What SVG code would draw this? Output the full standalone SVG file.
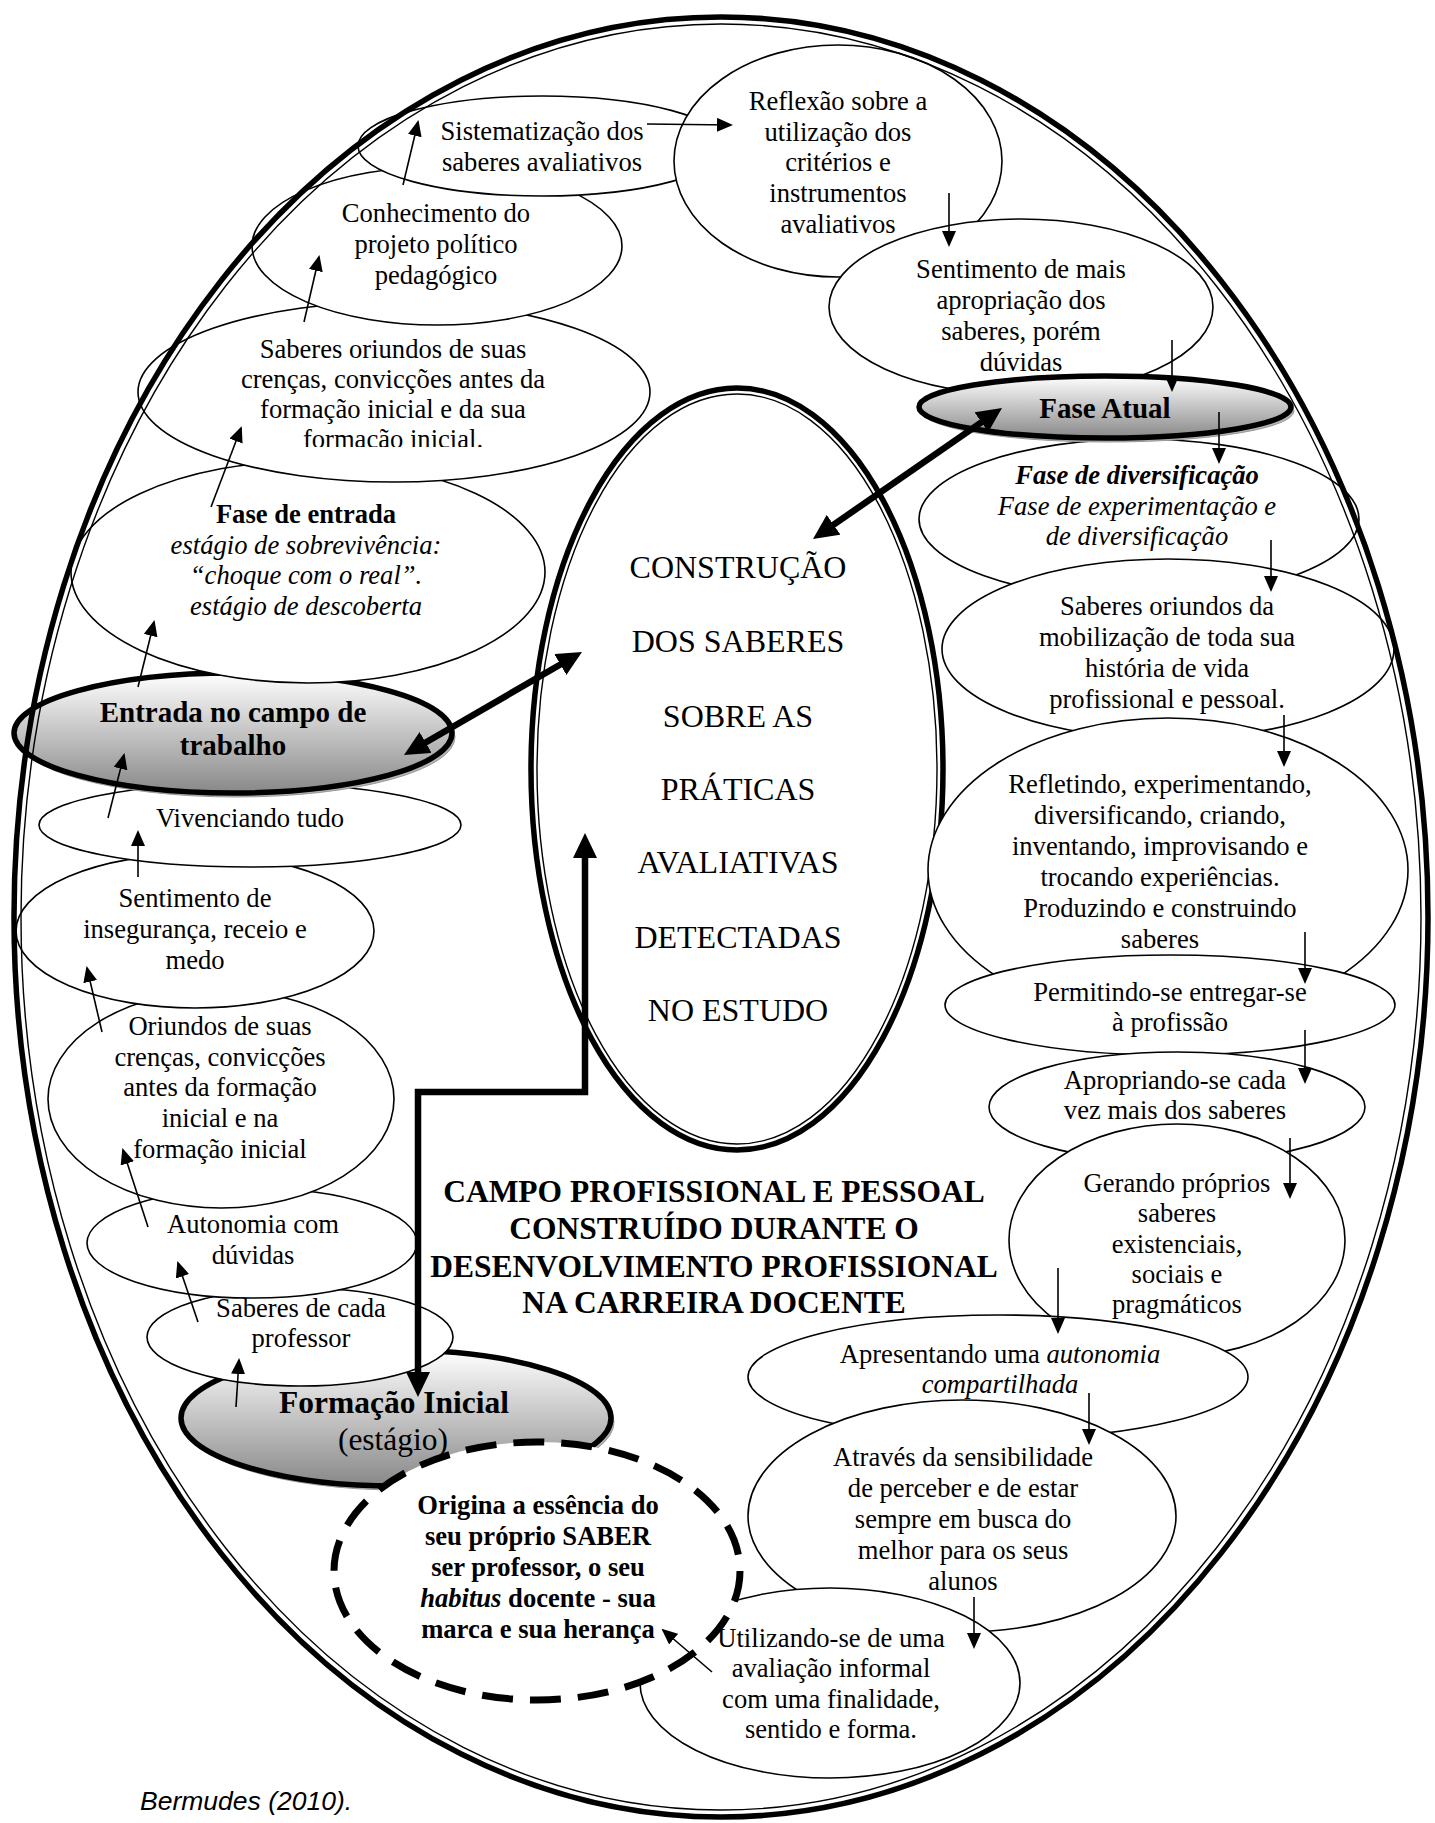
<svg xmlns="http://www.w3.org/2000/svg" width="1435" height="1823" viewBox="0 0 1435 1823">
<defs>
<style>
.n{fill:#fff;stroke:#000;stroke-width:1.6}
.g{fill:url(#gr);stroke:#000;stroke-width:5.5}
.sh{fill:#b4b4b4;stroke:#999;stroke-width:1}
.d{fill:#fff;stroke:#000;stroke-width:7;stroke-dasharray:31 17}
.t{font-family:"Liberation Serif","Times New Roman",serif;font-size:26.6px;text-anchor:middle;fill:#000}
.b{font-weight:bold}
.i{font-style:italic}
.big{font-size:32px}
.hd{font-size:29px;font-weight:bold}
.fi{font-size:31.5px}
.c{fill:none;stroke:#000;stroke-width:1.6}
.k{fill:none;stroke:#000;stroke-width:6.5;stroke-linejoin:miter}
.th{fill:none;stroke:#000;stroke-width:5.5}
.tn{fill:none;stroke:#000;stroke-width:1.4}
.src{font-family:"Liberation Sans",Arial,sans-serif;font-size:26.5px;font-style:italic;fill:#000}
</style>
<linearGradient id="gr" x1="0" y1="0" x2="0" y2="1">
<stop offset="0" stop-color="#ffffff"/>
<stop offset="1" stop-color="#888888"/>
</linearGradient>
<marker id="a" markerUnits="userSpaceOnUse" markerWidth="16" markerHeight="14" refX="14" refY="7" orient="auto">
<path d="M0,0 L16,7 L0,14 z" fill="#000"/>
</marker>
<marker id="k" markerUnits="userSpaceOnUse" markerWidth="25" markerHeight="24" refX="2" refY="12" orient="auto-start-reverse">
<path d="M0,0 L25,12 L0,24 z" fill="#000"/>
</marker>
<clipPath id="cl"><rect x="0" y="0" width="1435" height="447"/></clipPath>
</defs>
<rect width="1435" height="1823" fill="#fff"/>

<g id="central">
<ellipse class="th" cx="737" cy="769" rx="206" ry="381"/>
<ellipse class="tn" cx="737" cy="769" rx="200" ry="375"/>
<text class="t big" x="738" y="578">CONSTRUÇÃO</text>
<text class="t big" x="738" y="652">DOS SABERES</text>
<text class="t big" x="738" y="727">SOBRE AS</text>
<text class="t big" x="738" y="800">PRÁTICAS</text>
<text class="t big" x="738" y="873">AVALIATIVAS</text>
<text class="t big" x="738" y="948">DETECTADAS</text>
<text class="t big" x="738" y="1021">NO ESTUDO</text>
</g>

<g id="titulo">
<text class="t b fi" x="714" y="1202">CAMPO PROFISSIONAL E PESSOAL</text>
<text class="t b fi" x="714" y="1239">CONSTRUÍDO DURANTE O</text>
<text class="t b fi" x="714" y="1277">DESENVOLVIMENTO PROFISSIONAL</text>
<text class="t b fi" x="714" y="1313">NA CARREIRA DOCENTE</text>
</g>

<g id="formacao-inicial">
<ellipse class="sh" cx="399" cy="1422" rx="215" ry="68"/>
<ellipse class="g" cx="396" cy="1418" rx="215" ry="68"/>
</g>
<g id="saberes-cada">
<ellipse class="n" cx="300" cy="1337" rx="153" ry="49"/>
<text class="t" x="301" y="1317">Saberes de cada</text>
<text class="t" x="301" y="1347">professor</text>
</g>
<g id="autonomia">
<ellipse class="n" cx="252" cy="1243" rx="165" ry="55"/>
<text class="t" x="253" y="1233">Autonomia com</text>
<text class="t" x="253" y="1264">dúvidas</text>
</g>
<g id="oriundos">
<ellipse class="n" cx="221" cy="1099" rx="173" ry="109"/>
<text class="t" x="220" y="1035">Oriundos de suas</text>
<text class="t" x="220" y="1066">crenças, convicções</text>
<text class="t" x="220" y="1096">antes da formação</text>
<text class="t" x="220" y="1127">inicial e na</text>
<text class="t" x="220" y="1158">formação inicial</text>
</g>
<g id="sentimento-inseguranca">
<ellipse class="n" cx="195" cy="931" rx="179" ry="77"/>
<text class="t" x="195" y="907">Sentimento de</text>
<text class="t" x="195" y="938">insegurança, receio e</text>
<text class="t" x="195" y="969">medo</text>
</g>
<g id="vivenciando">
<ellipse class="n" cx="250" cy="825" rx="211" ry="42"/>
<text class="t" x="250" y="827">Vivenciando tudo</text>
</g>
<g id="entrada">
<ellipse class="sh" cx="236" cy="737" rx="219" ry="60"/>
<ellipse class="g" cx="233" cy="733" rx="219" ry="60"/>
<text class="t hd" x="233" y="722">Entrada no campo de</text>
<text class="t hd" x="233" y="755">trabalho</text>
</g>
<g id="fase-entrada">
<ellipse class="n" cx="308" cy="572" rx="237" ry="111"/>
<text class="t b" x="306" y="523">Fase de entrada</text>
<text class="t i" x="306" y="554">estágio de sobrevivência:</text>
<text class="t i" x="306" y="584">“choque com o real”.</text>
<text class="t i" x="306" y="615">estágio de descoberta</text>
</g>
<g id="saberes-oriundos">
<ellipse class="n" cx="394" cy="392" rx="256" ry="90"/>
<text class="t" x="393" y="358">Saberes oriundos de suas</text>
<text class="t" x="393" y="388">crenças, convicções antes da</text>
<text class="t" x="393" y="418">formação inicial e da sua</text>
<text class="t" x="393" y="448" clip-path="url(#cl)">formação inicial.</text>
</g>
<g id="conhecimento">
<ellipse class="n" cx="437" cy="246" rx="185" ry="79"/>
<text class="t" x="436" y="222">Conhecimento do</text>
<text class="t" x="436" y="253">projeto político</text>
<text class="t" x="436" y="284">pedagógico</text>
</g>
<g id="sistematizacao">
<ellipse class="n" cx="542" cy="146" rx="184" ry="50"/>
<text class="t" x="542" y="140">Sistematização dos</text>
<text class="t" x="542" y="171">saberes avaliativos</text>
</g>
<g id="reflexao">
<ellipse class="n" cx="838" cy="161" rx="164" ry="116"/>
<text class="t" x="838" y="110">Reflexão sobre a</text>
<text class="t" x="838" y="141">utilização dos</text>
<text class="t" x="838" y="171">critérios e</text>
<text class="t" x="838" y="202">instrumentos</text>
<text class="t" x="838" y="233">avaliativos</text>
</g>
<g id="sentimento-mais">
<ellipse class="n" cx="1021" cy="307" rx="192" ry="88"/>
<text class="t" x="1021" y="278">Sentimento de mais</text>
<text class="t" x="1021" y="309">apropriação dos</text>
<text class="t" x="1021" y="340">saberes, porém</text>
<text class="t" x="1021" y="371">dúvidas</text>
</g>
<g id="fase-diversificacao">
<ellipse class="n" cx="1139" cy="519" rx="220" ry="80"/>
<text class="t b i" x="1137" y="484">Fase de diversificação</text>
<text class="t i" x="1137" y="515">Fase de experimentação e</text>
<text class="t i" x="1137" y="545">de diversificação</text>
</g>
<g id="fase-atual">
<ellipse class="sh" cx="1108" cy="411" rx="186" ry="31"/>
<ellipse class="g" cx="1105" cy="407" rx="186" ry="31"/>
<text class="t hd" x="1105" y="418">Fase Atual</text>
</g>
<g id="saberes-mobilizacao">
<ellipse class="n" cx="1168" cy="649" rx="226" ry="90"/>
<text class="t" x="1167" y="615">Saberes oriundos da</text>
<text class="t" x="1167" y="646">mobilização de toda sua</text>
<text class="t" x="1167" y="677">história de vida</text>
<text class="t" x="1167" y="708">profissional e pessoal.</text>
</g>
<g id="refletindo">
<ellipse class="n" cx="1168" cy="870" rx="240" ry="152"/>
<text class="t" x="1160" y="793">Refletindo, experimentando,</text>
<text class="t" x="1160" y="824">diversificando, criando,</text>
<text class="t" x="1160" y="855">inventando, improvisando e</text>
<text class="t" x="1160" y="886">trocando experiências.</text>
<text class="t" x="1160" y="917">Produzindo e construindo</text>
<text class="t" x="1160" y="948">saberes</text>
</g>
<g id="permitindo">
<ellipse class="n" cx="1170" cy="1005" rx="225" ry="50"/>
<text class="t" x="1170" y="1001">Permitindo-se entregar-se</text>
<text class="t" x="1170" y="1031">à profissão</text>
</g>
<g id="apropriando">
<ellipse class="n" cx="1177" cy="1107" rx="188" ry="55"/>
<text class="t" x="1175" y="1089">Apropriando-se cada</text>
<text class="t" x="1175" y="1119">vez mais dos saberes</text>
</g>
<g id="gerando">
<ellipse class="n" cx="1177" cy="1240" rx="168" ry="116"/>
<text class="t" x="1177" y="1192">Gerando próprios</text>
<text class="t" x="1177" y="1222">saberes</text>
<text class="t" x="1177" y="1253">existenciais,</text>
<text class="t" x="1177" y="1283">sociais e</text>
<text class="t" x="1177" y="1313">pragmáticos</text>
</g>
<g id="apresentando">
<ellipse class="n" cx="998" cy="1377" rx="250" ry="62"/>
<text class="t" x="1000" y="1363">Apresentando uma <tspan font-style="italic">autonomia</tspan></text>
<text class="t i" x="1000" y="1393">compartilhada</text>
</g>
<g id="atraves">
<ellipse class="n" cx="962" cy="1516" rx="214" ry="116"/>
<text class="t" x="963" y="1466">Através da sensibilidade</text>
<text class="t" x="963" y="1497">de perceber e de estar</text>
<text class="t" x="963" y="1528">sempre em busca do</text>
<text class="t" x="963" y="1559">melhor para os seus</text>
<text class="t" x="963" y="1590">alunos</text>
</g>
<g id="utilizando">
<ellipse class="n" cx="830" cy="1683" rx="190" ry="95"/>
<text class="t" x="831" y="1647">Utilizando-se de uma</text>
<text class="t" x="831" y="1677">avaliação informal</text>
<text class="t" x="831" y="1708">com uma finalidade,</text>
<text class="t" x="831" y="1738">sentido e forma.</text>
</g>
<g id="origina">
<ellipse class="d" cx="537" cy="1571" rx="203" ry="129"/>
<text class="t b" x="538" y="1514">Origina a essência do</text>
<text class="t b" x="538" y="1545">seu próprio SABER</text>
<text class="t b" x="538" y="1576">ser professor, o seu</text>
<text class="t b" x="538" y="1607"><tspan font-style="italic">habitus</tspan> docente - sua</text>
<text class="t b" x="538" y="1638">marca e sua herança</text>
</g>
<g id="formacao-inicial-texto">
<text class="t b fi" x="394" y="1413">Formação Inicial</text>
<text class="t fi" x="393" y="1450">(estágio)</text>
</g>

<g id="campo">
<ellipse class="th" cx="721" cy="917" rx="707" ry="900"/>
<ellipse class="tn" cx="721" cy="917" rx="700" ry="893"/>
</g>

<g id="connectors">
<line class="c" x1="236" y1="1407" x2="239" y2="1360" marker-end="url(#a)"/>
<line class="c" x1="198" y1="1322" x2="178" y2="1263" marker-end="url(#a)"/>
<line class="c" x1="148" y1="1227" x2="123" y2="1150" marker-end="url(#a)"/>
<line class="c" x1="102" y1="1032" x2="87" y2="968" marker-end="url(#a)"/>
<line class="c" x1="138" y1="877" x2="138" y2="832" marker-end="url(#a)"/>
<line class="c" x1="108" y1="818" x2="124" y2="755" marker-end="url(#a)"/>
<line class="c" x1="138" y1="687" x2="154" y2="622" marker-end="url(#a)"/>
<line class="c" x1="211" y1="507" x2="241" y2="428" marker-end="url(#a)"/>
<line class="c" x1="304" y1="322" x2="319" y2="257" marker-end="url(#a)"/>
<line class="c" x1="403" y1="185" x2="418" y2="122" marker-end="url(#a)"/>
<line class="c" x1="647" y1="124" x2="731" y2="125" marker-end="url(#a)"/>
<line class="c" x1="949" y1="193" x2="949" y2="245" marker-end="url(#a)"/>
<line class="c" x1="1172" y1="340" x2="1172" y2="390" marker-end="url(#a)"/>
<line class="c" x1="1219" y1="412" x2="1219" y2="462" marker-end="url(#a)"/>
<line class="c" x1="1271" y1="540" x2="1271" y2="590" marker-end="url(#a)"/>
<line class="c" x1="1284" y1="715" x2="1284" y2="765" marker-end="url(#a)"/>
<line class="c" x1="1305" y1="932" x2="1305" y2="982" marker-end="url(#a)"/>
<line class="c" x1="1305" y1="1030" x2="1305" y2="1082" marker-end="url(#a)"/>
<line class="c" x1="1290" y1="1138" x2="1290" y2="1197" marker-end="url(#a)"/>
<line class="c" x1="1058" y1="1268" x2="1058" y2="1332" marker-end="url(#a)"/>
<line class="c" x1="1089" y1="1393" x2="1089" y2="1443" marker-end="url(#a)"/>
<line class="c" x1="974" y1="1597" x2="974" y2="1647" marker-end="url(#a)"/>
<line class="c" x1="712" y1="1672" x2="663" y2="1630" marker-end="url(#a)"/>
<line class="k" x1="423.9" y1="743.5" x2="562.1" y2="663.5" marker-start="url(#k)" marker-end="url(#k)"/>
<line class="k" x1="831.9" y1="525.9" x2="983.1" y2="421.1" marker-start="url(#k)" marker-end="url(#k)"/>
<path class="k" d="M585,856 L585,1092 L418,1092 L418,1374" marker-start="url(#k)" marker-end="url(#k)"/>
</g>

<text class="src" x="140" y="1810">Bermudes (2010).</text>
</svg>
